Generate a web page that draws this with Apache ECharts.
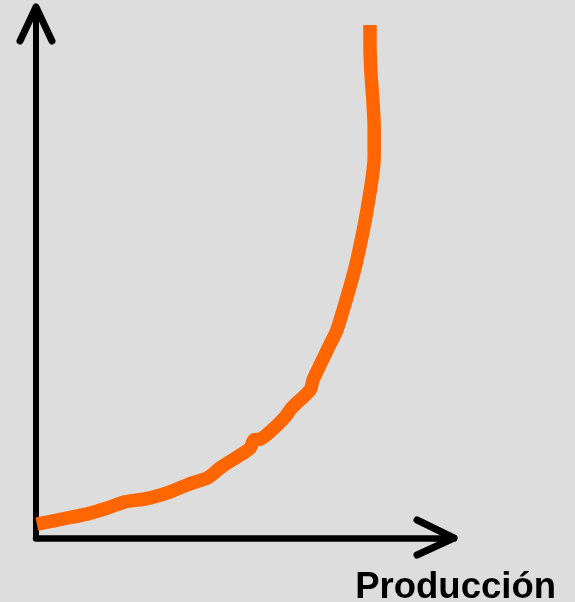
<!DOCTYPE html>
<html>
<head>
<meta charset="utf-8">
<script src="https://cdn.jsdelivr.net/npm/echarts@6/dist/echarts.min.js"></script>
<style>
html,body{margin:0;padding:0;background:#dddddd;}
#c{width:575px;height:602px;}
</style>
</head>
<body>
<div id="c"></div>
<script>
// Curve values (x: production, y: cost) in axis units 0-100
const prodX = [0.2, 6.5, 12.1, 16.9, 21.3, 25.7, 28.1, 32.1, 36.8, 41.2, 44.4, 49.6, 51.2, 52.2, 53.6, 56.0, 59.6, 61.2, 65.6, 66.3, 70.3, 72.0, 75.1, 76.8, 79.2, 80.9, 80.9, 80.1, 79.9, 79.9];
const costY = [2.6, 3.6, 4.5, 5.6, 6.8, 7.3, 7.7, 8.7, 10.2, 11.4, 13.4, 16.0, 16.9, 18.5, 18.6, 20.0, 22.8, 24.5, 27.9, 29.8, 36.4, 39.2, 47.3, 52.4, 61.8, 71.8, 77.4, 88.1, 93.2, 96.6];
const xAxisLabel = 'Producción';
const axisMin = 0, axisMax = 100;

const chart = echarts.init(document.getElementById('c'), null, {renderer: 'canvas'});
const option = {
  backgroundColor: '#dddddd',
  animation: false,
  grid: {left: 36, right: 121, top: 7, bottom: 64},
  title: {
    text: xAxisLabel,
    right: 14, top: 564,
    textStyle: {fontFamily: 'Liberation Sans, Arial, sans-serif', fontSize: 36.5, fontWeight: 'bold', color: '#000'}
  },
  xAxis: {
    type: 'value', min: axisMin, max: axisMax,
    axisLine: {show: true, onZero: false, lineStyle: {color: '#000', width: 6.5}},
    axisTick: {show: false}, axisLabel: {show: false}, splitLine: {show: false}
  },
  yAxis: {
    type: 'value', min: axisMin, max: axisMax,
    axisLine: {show: true, onZero: false, lineStyle: {color: '#000', width: 6}},
    axisTick: {show: false}, axisLabel: {show: false}, splitLine: {show: false}
  },
  series: [{
    type: 'line',
    data: prodX.map((x, i) => [x, costY[i]]),
    showSymbol: false,
    smooth: 0.25,
    lineStyle: {color: '#ff6600', width: 13.5, cap: 'butt', join: 'round'}
  }]
};
chart.setOption(option);

// Open chevron arrow heads at axis ends
const origin = chart.convertToPixel({gridIndex: 0}, [axisMin, axisMin]);
const corner = chart.convertToPixel({gridIndex: 0}, [axisMax, axisMax]);
const arrowStyle = {stroke: '#000', lineWidth: 7, lineCap: 'round', lineJoin: 'round', fill: null};
chart.setOption({
  graphic: [
    {type: 'polyline', shape: {points: [[origin[0] - 16, corner[1] + 34], [origin[0], corner[1]], [origin[0] + 16, corner[1] + 34]]}, style: arrowStyle, z: 10},
    {type: 'polyline', shape: {points: [[corner[0] - 37, origin[1] - 18], [corner[0], origin[1]], [corner[0] - 37, origin[1] + 17]]}, style: arrowStyle, z: 10}
  ]
});
</script>
</body>
</html>
